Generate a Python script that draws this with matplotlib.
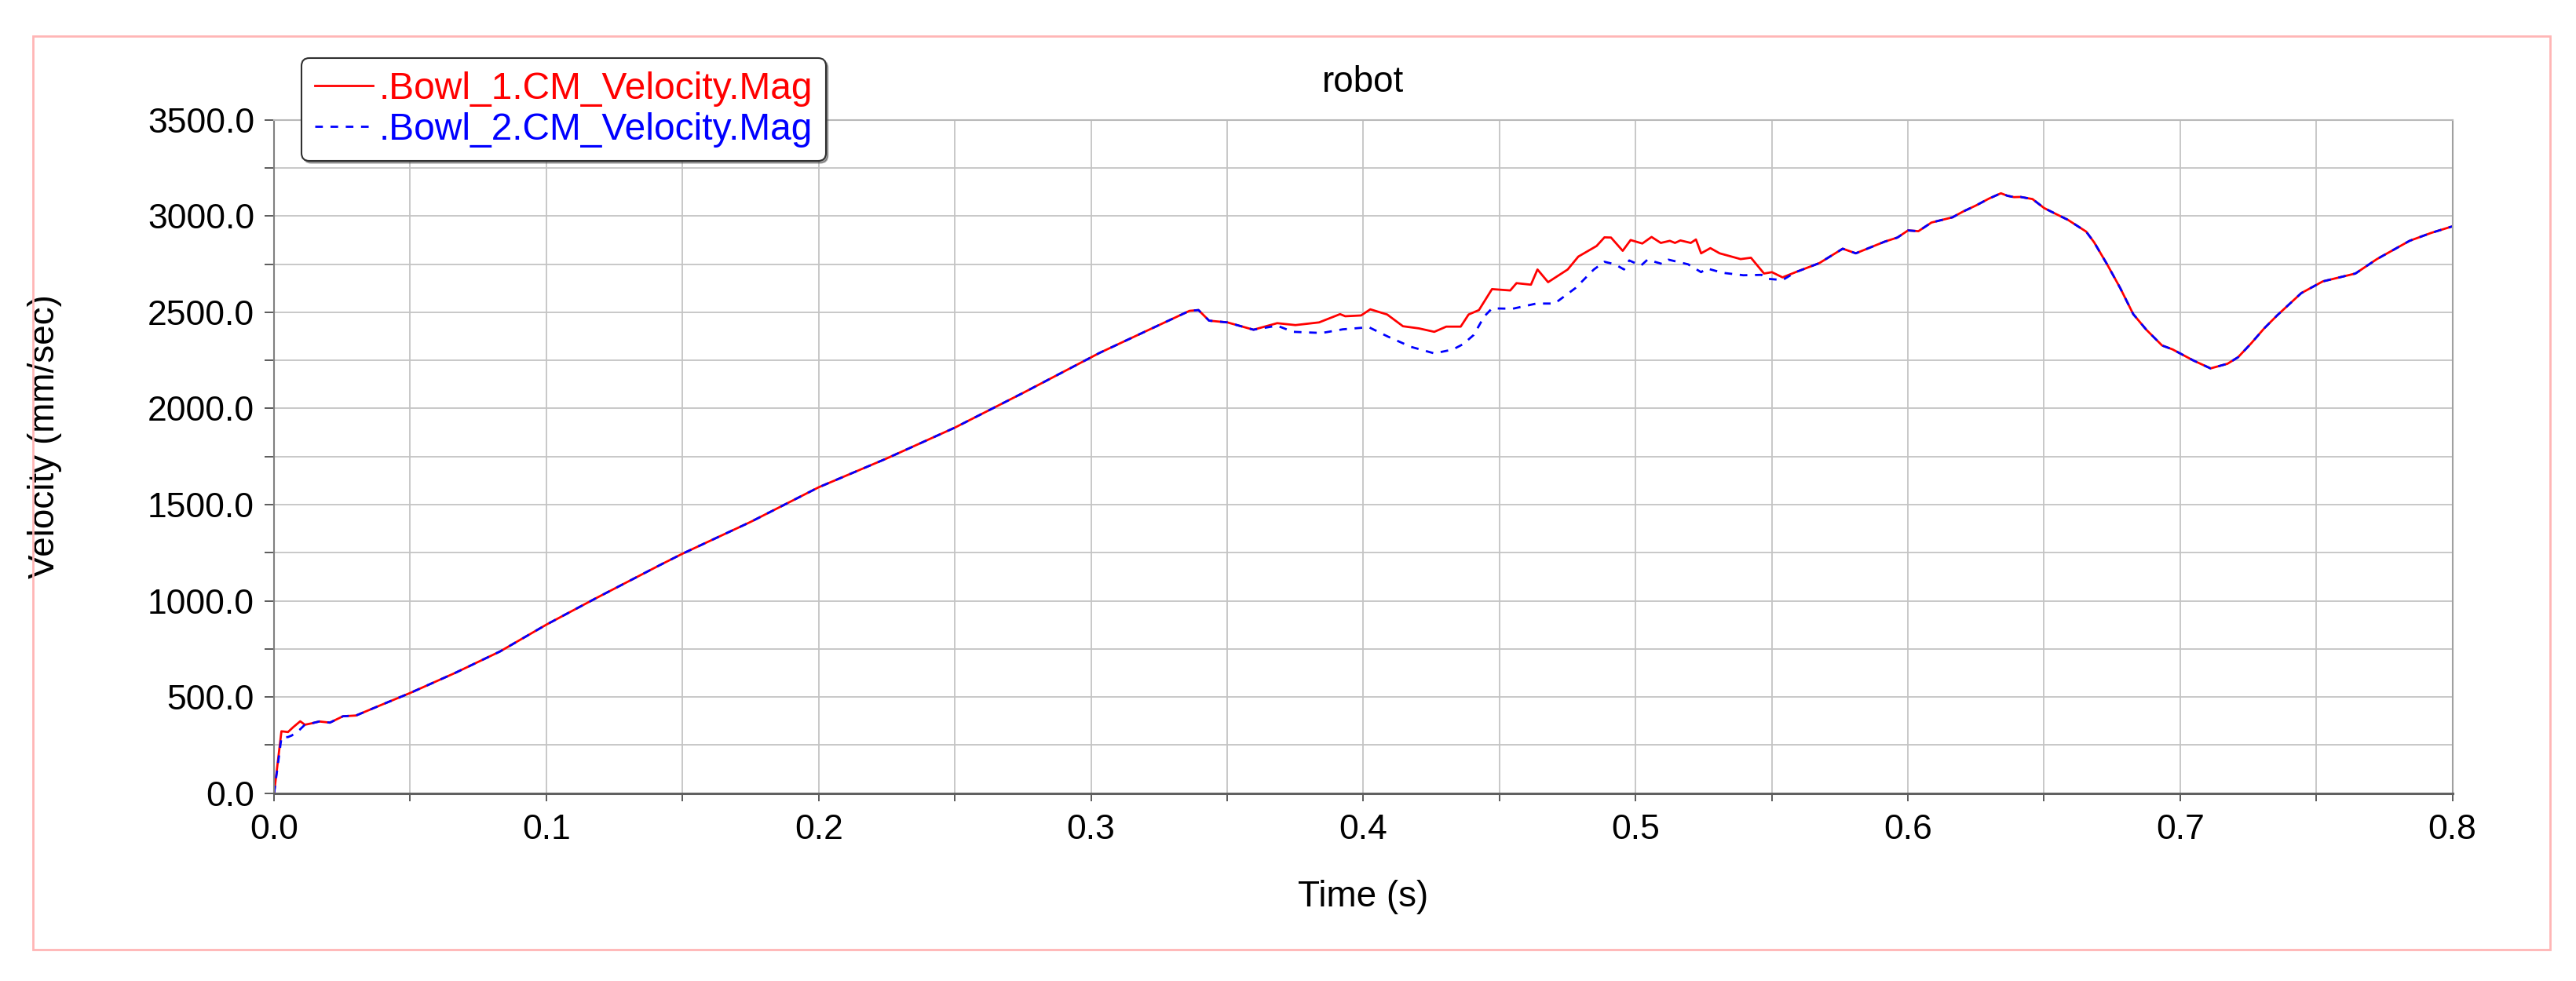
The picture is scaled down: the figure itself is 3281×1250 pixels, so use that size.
import matplotlib.pyplot as plt
from matplotlib.patches import Rectangle
from matplotlib.ticker import MultipleLocator, FormatStrFormatter

# valores (tiempo en s, velocidad en mm/sec)
t_red_start = [0.0, 0.0027, 0.0051, 0.0070, 0.0096]
v_red_start = [0, 322, 318, 343, 374]
t_blue_start = [0.0, 0.0027, 0.0051, 0.0065, 0.0094]
v_blue_start = [0, 290, 292, 300, 330]

# tramo comun de subida
t_rise = [0.0113, 0.0137, 0.0166, 0.0205, 0.0253, 0.0301, 0.0397, 0.0498, 0.0666,
          0.083, 0.1001, 0.1176, 0.1416, 0.15, 0.175, 0.2, 0.225, 0.25, 0.275,
          0.3031, 0.3203, 0.3362, 0.3395, 0.3434, 0.3501, 0.3597]
v_rise = [356, 363, 373, 367, 400, 404, 461, 520, 626,
          737, 877, 1009, 1185, 1245, 1410, 1590, 1740, 1900, 2080,
          2288, 2402, 2507, 2511, 2456, 2447, 2409]

# tramo donde las curvas se separan
t_red_mid = [0.3684, 0.3751, 0.3838, 0.3915, 0.3934, 0.3992, 0.4026, 0.4088, 0.4146,
             0.4204, 0.4261, 0.4305, 0.4358, 0.4387, 0.4425, 0.4473, 0.4540, 0.4563,
             0.4616, 0.4640, 0.4679, 0.4751, 0.4790, 0.4857, 0.4886, 0.4910, 0.4953,
             0.4982, 0.5025, 0.5059, 0.5093, 0.5126, 0.5145, 0.5165, 0.5203, 0.5222,
             0.5241, 0.5275, 0.5309, 0.5386, 0.5424, 0.5472, 0.5501, 0.5540]
v_red_mid = [2443, 2433, 2447, 2490, 2479, 2483, 2515, 2488, 2427,
             2416, 2398, 2425, 2425, 2488, 2511, 2620, 2613, 2651,
             2643, 2722, 2656, 2722, 2789, 2844, 2889, 2888, 2819,
             2875, 2857, 2891, 2860, 2871, 2860, 2873, 2860, 2878,
             2806, 2833, 2806, 2776, 2783, 2701, 2708, 2681]
t_blue_mid = [0.3684, 0.3742, 0.3848, 0.3925, 0.4021, 0.4088, 0.4175, 0.4261, 0.4329,
              0.4367, 0.4406, 0.4444, 0.4473, 0.4549, 0.4636, 0.4703, 0.4780, 0.4847,
              0.4886, 0.4924, 0.4958, 0.4977, 0.5020, 0.5044, 0.5097, 0.5121, 0.5193,
              0.5241, 0.5261, 0.5319, 0.5396, 0.5463, 0.5482, 0.5540]
v_blue_mid = [2430, 2398, 2392, 2411, 2422, 2375, 2320, 2286, 2306,
              2334, 2382, 2477, 2520, 2518, 2545, 2545, 2626, 2722,
              2762, 2749, 2722, 2769, 2742, 2773, 2751, 2773, 2749,
              2708, 2728, 2705, 2692, 2694, 2674, 2667]

# tramo comun final
t_end = [0.5588, 0.5675, 0.5761, 0.5809, 0.5914, 0.5962, 0.6001, 0.6039, 0.6087,
         0.6164, 0.6203, 0.6251, 0.6299, 0.6342, 0.6366, 0.6390, 0.6414, 0.6458,
         0.6501, 0.6549, 0.6588, 0.6655, 0.6684, 0.6732, 0.6780, 0.6828, 0.6876,
         0.6934, 0.6972, 0.7049, 0.7112, 0.7174, 0.7213, 0.7261, 0.7309, 0.7357,
         0.7445, 0.7524, 0.7644, 0.7723, 0.7843, 0.7922, 0.8]
v_end = [2708, 2755, 2830, 2806, 2866, 2888, 2925, 2921, 2966,
         2993, 3023, 3055, 3091, 3118, 3105, 3098, 3099, 3088,
         3041, 3007, 2980, 2919, 2864, 2749, 2626, 2490, 2409,
         2327, 2307, 2249, 2208, 2232, 2266, 2338, 2416, 2484,
         2599, 2660, 2701, 2776, 2871, 2912, 2946]

t_red = t_red_start + t_rise + t_red_mid + t_end
v_red = v_red_start + v_rise + v_red_mid + v_end
t_blue = t_blue_start + t_rise + t_blue_mid + t_end
v_blue = v_blue_start + v_rise + v_blue_mid + v_end

plt.rcParams['font.family'] = ['Liberation Sans', 'DejaVu Sans']

fig = plt.figure(figsize=(32.81, 12.5), dpi=100)
ax = fig.add_axes([0.1064, 0.1914, 0.8456, 0.6865])

ax.plot(t_red, v_red, color='red', lw=2.0, label='.Bowl_1.CM_Velocity.Mag')
ax.plot(t_blue, v_blue, color='blue', lw=2.0, linestyle=(0, (3.5, 3.5)),
        label='.Bowl_2.CM_Velocity.Mag')

ax.set_xlim(0, 0.8)
ax.set_ylim(0, 3500)
ax.xaxis.set_major_locator(MultipleLocator(0.1))
ax.xaxis.set_minor_locator(MultipleLocator(0.05))
ax.yaxis.set_major_locator(MultipleLocator(500))
ax.yaxis.set_minor_locator(MultipleLocator(250))
ax.xaxis.set_major_formatter(FormatStrFormatter('%.1f'))
ax.yaxis.set_major_formatter(FormatStrFormatter('%.1f'))

ax.grid(True, which='both', color='#c4c4c4', lw=1.3)
ax.set_axisbelow(True)
ax.tick_params(axis='y', which='both', direction='out', length=9, width=1.2,
               color='#404040', labelsize=32, pad=9)
ax.tick_params(axis='x', which='both', direction='out', length=7, width=1.2,
               color='#404040', labelsize=32, pad=12)

ax.spines['left'].set_color('#808080')
ax.spines['bottom'].set_color('#606060')
ax.spines['right'].set_color('#a0a0a0')
ax.spines['top'].set_color('#b8b8b8')
for s in ax.spines.values():
    s.set_linewidth(1.5)
ax.spines['bottom'].set_linewidth(2.2)

ax.set_xlabel('Time (s)', fontsize=33)
ax.xaxis.set_label_coords(0.5, -0.154)
ax.xaxis.label.set_va('center')
ax.set_ylabel('Velocity (mm/sec)', fontsize=33)
ax.yaxis.set_label_coords(-0.1052, 0.53)
ax.yaxis.label.set_va('center')

fig.text(0.529, 1 - 105 / 1250, 'robot', fontsize=33, ha='center', va='center')

leg = ax.legend(loc='upper left', bbox_to_anchor=(384 / 3281, 1 - 74 / 1250),
                bbox_transform=fig.transFigure, borderaxespad=0,
                fontsize=34.5, handlelength=1.55, handletextpad=0.15,
                borderpad=0.35, labelspacing=0.15, fancybox=True, shadow=True,
                framealpha=1, edgecolor='#303030', labelcolor='linecolor')
leg.get_frame().set_linewidth(1.5)

# marco rosado alrededor de la figura
fig.patches.append(Rectangle((42 / 3281, 1 - 1210 / 1250), 3206 / 3281, 1164 / 1250,
                             transform=fig.transFigure, fill=False,
                             edgecolor='#ffb6b6', lw=2.0))

fig.savefig('out.png', dpi=100)
